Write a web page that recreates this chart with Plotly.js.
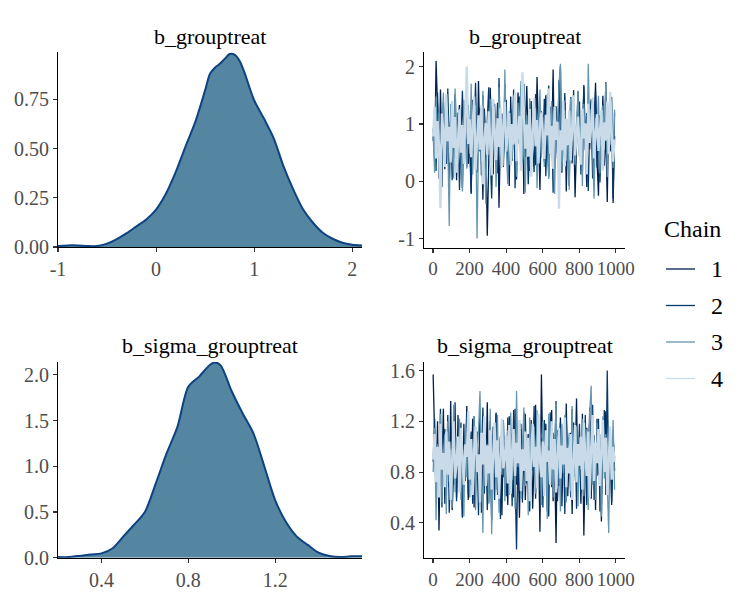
<!DOCTYPE html>
<html>
<head>
<meta charset="utf-8">
<script src="https://cdn.plot.ly/plotly-3.0.1.min.js"></script>
<style>html,body{margin:0;padding:0;background:#fff;}#chart{width:750px;height:600px;}</style>
</head>
<body>
<div id="chart"></div>
<script>
// ---------- data ----------
const params = ["b_grouptreat", "b_sigma_grouptreat"];
const chainNames = ["1", "2", "3", "4"];
const chainColors = ["#011f4b", "#03396c", "#6497b1", "#c9dbe8"];

// density of b_grouptreat
const densX1 = [-1.0,-0.9,-0.8,-0.7,-0.6,-0.5,-0.4,-0.3,-0.2,-0.1,0.0,0.1,0.2,0.3,0.4,0.5,0.55,0.6,0.65,0.7,0.75,0.8,0.85,0.9,1.0,1.1,1.2,1.3,1.4,1.5,1.6,1.7,1.8,1.9,2.0,2.1];
const densY1 = [0.005,0.008,0.008,0.005,0.005,0.017,0.04,0.07,0.105,0.14,0.19,0.27,0.38,0.51,0.635,0.795,0.88,0.91,0.93,0.955,0.98,0.977,0.947,0.888,0.745,0.652,0.552,0.409,0.291,0.19,0.123,0.072,0.042,0.022,0.012,0.008];

// density of b_sigma_grouptreat
const densX2 = [0.2,0.25,0.3,0.35,0.4,0.45,0.5,0.55,0.6,0.65,0.7,0.75,0.8,0.85,0.9,0.925,0.95,1.0,1.05,1.1,1.15,1.2,1.25,1.3,1.35,1.4,1.45,1.5,1.55,1.6];
const densY2 = [0.007,0.007,0.02,0.036,0.047,0.10,0.23,0.36,0.50,0.81,1.14,1.43,1.87,1.98,2.11,2.135,2.10,1.82,1.58,1.36,1.00,0.63,0.39,0.23,0.14,0.055,0.018,0.007,0.015,0.015];

// thinned draws (every 8th iteration) per chain, b_grouptreat
const chain1_b = [0.92,0.35,2.10,1.30,0.05,1.60,0.48,1.12,0.21,1.45,0.66,-0.05,1.21,0.83,0.40,1.52,0.02,0.95,1.33,0.57,-0.12,1.08,0.74,1.58,0.30,
0.88,-0.20,1.42,0.61,1.05,0.15,1.75,0.52,0.97,-0.32,1.27,0.70,-0.95,0.44,1.63,0.86,0.12,1.18,0.60,1.37,-0.46,0.79,1.02,0.25,1.70,
0.55,0.98,-0.08,1.48,0.36,1.15,0.68,0.03,1.55,0.82,0.41,1.25,-0.22,0.93,1.66,0.50,0.18,1.40,0.77,1.06,0.28,1.82,0.63,-0.15,1.20,
0.71,0.34,1.50,0.90,0.08,1.30,0.58,1.95,0.22,1.03,0.47,1.61,2.00,0.15,0.85,1.36,-0.18,0.99,0.62,1.47,0.31,1.12,-0.28,0.80,1.57,
0.43,1.00,0.19,1.68,0.73,-0.10,1.22,0.56,1.40,0.05,0.94,1.72,0.37,-0.25,1.15,0.66,1.49,0.27,0.88,-0.36,1.30,0.52,1.10,-0.38,0.79];
const chain2_b = [0.70,1.25,0.18,1.55,0.62,0.95,-0.10,1.38,0.80,0.30,1.62,0.55,1.10,0.02,0.88,1.45,0.40,1.20,-0.15,0.76,1.58,0.48,1.02,0.25,1.33,
0.60,-0.22,1.15,0.92,1.72,0.35,0.84,1.28,0.10,1.50,0.68,0.21,1.06,1.64,0.45,-0.30,0.97,1.35,0.58,0.14,1.80,0.72,1.18,0.38,0.90,
1.42,0.05,0.78,1.26,0.52,1.60,-0.12,1.00,0.66,1.48,0.27,0.93,1.70,0.42,1.12,-0.05,0.82,1.36,0.59,0.16,1.52,0.74,1.04,0.33,1.22,
0.64,1.44,0.09,0.96,1.67,0.50,1.14,-0.20,0.86,1.31,0.39,1.76,0.70,0.20,1.08,1.54,0.46,0.91,-0.08,1.27,0.63,1.59,0.28,1.01,0.77,
1.39,0.12,0.85,1.65,0.54,1.19,-0.17,0.98,1.43,0.36,0.73,1.56,0.24,1.09,-0.02,0.89,1.34,0.57,1.73,0.31,1.05,0.65,1.47,-0.30,1.20];
const chain3_b = [0.82,0.15,1.48,0.63,1.20,-0.25,0.97,1.55,0.40,1.10,0.70,-0.78,1.35,0.52,0.05,1.62,0.88,0.30,1.27,0.59,-0.18,1.42,0.76,0.22,1.05,
0.48,1.70,0.12,0.93,1.33,-1.00,0.67,1.18,0.35,1.58,0.80,-0.40,1.02,0.56,1.44,0.19,0.90,1.30,-0.10,0.73,1.64,0.44,1.08,0.27,1.95,
0.61,-0.05,1.22,0.85,0.38,1.50,0.69,0.08,1.37,0.95,1.75,0.32,0.78,-0.20,1.15,0.57,1.45,0.14,1.00,0.66,1.28,-0.12,0.83,1.60,0.42,
1.12,0.25,0.92,1.52,0.04,0.74,1.40,0.50,-0.22,1.06,0.87,1.68,2.05,0.18,0.62,1.24,0.36,0.99,-0.15,1.46,0.71,1.17,0.29,0.81,1.58,
0.46,1.03,-0.08,1.35,0.68,0.21,2.05,0.94,1.26,0.39,-0.30,1.11,0.77,1.49,0.13,0.86,1.32,0.55,1.72,0.07,0.98,0.64,1.41,0.23,1.25];
const chain4_b = [0.78,1.30,0.40,1.05,0.62,-0.47,1.18,0.85,0.25,1.52,0.70,0.95,0.33,1.40,0.58,1.12,0.15,0.88,1.25,0.50,0.98,0.30,1.36,2.00,0.65,
1.08,0.42,0.92,1.48,0.20,0.80,1.15,0.55,1.32,-0.05,0.74,1.02,0.46,1.22,0.68,0.10,1.44,0.86,0.37,1.10,0.60,1.28,0.24,0.96,1.38,
0.52,0.83,1.19,0.28,1.00,0.64,1.55,0.35,0.90,1.14,0.18,1.90,1.34,0.57,0.99,0.43,1.26,0.08,0.84,1.45,0.61,1.07,0.31,0.93,1.20,
0.66,0.39,1.16,0.80,1.62,0.48,0.97,0.22,1.30,0.72,1.04,-0.48,0.89,0.54,1.41,0.26,1.09,0.63,1.23,0.36,0.91,1.50,0.45,0.82,1.13,
0.58,0.29,1.27,0.75,1.01,0.12,1.35,0.67,0.94,1.46,0.40,0.79,1.17,0.53,0.87,1.24,0.19,1.03,0.71,1.39,0.47,1.56,0.85,0.34,0.73];

// thinned draws per chain, b_sigma_grouptreat
const chain1_s = [1.57,0.95,0.62,1.20,0.34,1.05,0.78,1.30,0.55,0.92,1.15,0.68,1.36,0.50,0.88,1.10,0.60,1.25,0.74,0.98,0.45,1.18,0.83,1.32,0.58,
1.00,0.70,1.22,0.52,0.94,1.12,0.65,1.28,0.48,0.86,1.06,0.72,1.35,0.56,0.96,0.42,1.16,0.80,1.26,0.62,0.90,1.08,0.46,1.20,0.75,
0.97,0.54,1.24,0.82,1.04,0.60,1.30,0.70,0.93,0.44,1.14,0.77,1.27,0.58,0.99,1.10,0.66,1.21,0.51,0.87,1.33,0.73,1.02,0.33,1.57,
0.85,0.64,1.18,0.49,1.07,0.79,1.29,0.57,0.91,0.24,1.13,0.69,1.23,0.53,1.01,0.76,1.34,0.61,0.95,1.11,0.47,1.19,0.84,1.38,0.67,
1.03,0.55,1.26,0.30,0.89,1.15,0.71,1.31,0.59,0.98,1.09,0.50,1.22,0.78,0.94,0.41,1.17,0.86,1.28,0.63,0.92,1.12,0.54,1.07,0.81];
const chain2_s = [0.88,1.22,0.60,1.05,0.75,1.30,0.52,0.96,1.14,0.66,1.25,0.48,0.92,1.08,0.70,1.35,0.57,1.00,0.80,1.19,0.44,1.02,0.73,1.28,0.62,
0.95,1.12,0.55,1.24,0.78,0.99,0.46,1.17,0.84,1.31,0.63,1.06,0.50,0.93,1.20,0.69,1.09,0.58,1.27,0.82,0.97,0.43,1.15,0.76,1.03,
0.61,1.23,0.87,1.10,0.53,1.29,0.74,0.19,1.01,0.67,1.18,0.56,0.94,1.26,0.71,1.04,0.49,1.13,0.81,1.32,0.59,0.98,1.16,0.65,1.07,
0.52,1.21,0.79,1.00,0.45,1.27,0.68,1.11,0.86,1.36,0.57,0.96,1.19,0.72,1.05,0.47,1.24,0.83,0.99,0.60,1.30,0.76,1.14,0.51,0.93,
1.18,0.64,1.08,0.85,1.25,0.54,0.97,1.20,0.70,1.33,0.58,1.02,0.77,1.22,0.49,1.10,0.88,1.29,0.62,1.60,0.73,1.15,0.56,1.06,0.91];
const chain3_s = [0.80,1.15,0.42,1.02,0.68,1.26,0.56,0.94,1.10,0.47,1.20,0.72,0.98,0.52,1.33,0.64,1.07,0.85,1.22,0.58,1.00,0.45,1.17,0.76,1.28,
0.60,1.05,0.82,1.24,0.50,0.96,1.12,1.44,0.70,0.32,1.18,0.88,1.02,0.55,1.30,0.31,0.92,1.14,0.66,1.25,0.48,1.08,0.78,1.21,0.57,
0.99,1.13,0.62,1.27,0.74,1.04,0.51,1.44,0.84,1.19,0.59,0.95,1.31,0.69,1.09,0.46,1.23,0.81,0.97,1.16,0.63,1.29,0.77,1.01,0.54,
1.20,0.71,1.06,0.43,1.26,0.86,1.12,0.60,0.93,1.34,0.67,1.03,0.49,1.18,0.79,1.25,0.56,0.98,1.11,0.65,1.32,0.73,0.90,1.16,0.53,
1.07,0.82,1.22,0.61,0.96,1.14,0.50,1.27,1.48,0.70,1.05,0.58,1.19,0.87,1.01,0.45,1.24,0.75,1.10,0.63,0.32,1.15,0.80,1.21,0.66];
const chain4_s = [0.90,1.10,0.72,1.00,0.60,1.18,0.82,0.95,0.68,1.12,0.78,1.04,0.58,0.98,1.20,0.75,0.88,1.08,0.64,1.15,0.85,0.70,1.02,0.92,1.28,
0.74,1.06,0.62,0.97,1.16,0.80,0.94,0.56,1.11,0.86,1.24,0.69,1.01,0.79,1.13,0.66,0.93,1.19,0.76,1.05,0.59,0.99,1.22,0.83,0.91,
1.09,0.71,1.17,0.63,0.96,1.14,0.77,1.03,0.87,1.21,0.65,0.98,0.81,1.12,0.73,1.07,0.57,0.95,1.18,0.84,1.00,0.67,1.26,0.89,0.76,
1.04,0.61,1.13,0.88,0.97,0.70,1.20,0.82,1.06,0.64,0.93,1.15,0.75,1.01,0.86,1.23,0.68,0.99,0.79,1.10,0.58,0.94,1.17,0.72,1.02,
0.85,1.08,0.66,1.19,0.91,0.77,1.12,0.60,0.98,1.25,0.73,1.03,0.87,1.14,0.69,0.96,1.21,0.80,1.07,0.62,0.94,1.16,0.74,1.00,0.88];

const thin = 8; // iteration step between stored draws

// tick labels
const dens1XTicks = [-1, 0, 1, 2];           const dens1XText = ["-1", "0", "1", "2"];
const dens1YTicks = [0, 0.25, 0.5, 0.75];    const dens1YText = ["0.00", "0.25", "0.50", "0.75"];
const traceXTicks = [0, 200, 400, 600, 800, 1000]; const traceXText = ["0", "200", "400", "600", "800", "1000"];
const trace1YTicks = [-1, 0, 1, 2];          const trace1YText = ["-1", "0", "1", "2"];
const dens2XTicks = [0.4, 0.8, 1.2];         const dens2XText = ["0.4", "0.8", "1.2"];
const dens2YTicks = [0, 0.5, 1, 1.5, 2];     const dens2YText = ["0.0", "0.5", "1.0", "1.5", "2.0"];
const trace2YTicks = [0.4, 0.8, 1.2, 1.6];   const trace2YText = ["0.4", "0.8", "1.2", "1.6"];

// ---------- build ----------
const FONT = "Liberation Serif, Times New Roman, serif";
const densFill = "#5486a2", densLine = "#0d4380";

function iters(arr) { return arr.map((_, i) => 1 + i * thin); }

const traces = [];
traces.push({x: densX1, y: densY1, type: "scatter", mode: "lines", fill: "tozeroy",
  fillcolor: densFill, line: {color: densLine, width: 2, shape: "spline", smoothing: 0.8},
  xaxis: "x", yaxis: "y", showlegend: false, hoverinfo: "skip"});
traces.push({x: densX2, y: densY2, type: "scatter", mode: "lines", fill: "tozeroy",
  fillcolor: densFill, line: {color: densLine, width: 2, shape: "spline", smoothing: 0.8},
  xaxis: "x3", yaxis: "y3", showlegend: false, hoverinfo: "skip"});

const chainsB = [chain1_b, chain2_b, chain3_b, chain4_b];
const chainsS = [chain1_s, chain2_s, chain3_s, chain4_s];
const traceWidths = [1.3, 1.3, 1.3, 2.4];
chainsB.forEach((c, k) => traces.push({x: iters(c), y: c, type: "scatter", mode: "lines",
  line: {color: chainColors[k], width: traceWidths[k]}, name: chainNames[k], xaxis: "x2", yaxis: "y2", showlegend: false}));
chainsS.forEach((c, k) => traces.push({x: iters(c), y: c, type: "scatter", mode: "lines",
  line: {color: chainColors[k], width: traceWidths[k]}, name: chainNames[k], xaxis: "x4", yaxis: "y4", showlegend: false}));

const W = 750, H = 600;
const px = v => v / W, py = v => 1 - v / H;

function axis(domain, range, tickvals, ticktext, fs) {
  return {domain: domain, range: range, tickmode: "array", tickvals: tickvals, ticktext: ticktext,
    showline: true, linecolor: "#000", linewidth: 1.1, ticks: "outside", ticklen: 4, tickwidth: 1.1,
    tickcolor: "#333", showgrid: false, zeroline: false, fixedrange: true, tickangle: 0,
    tickfont: {family: FONT, size: fs || 20, color: "#4d4d4d"}};
}

const layout = {
  width: W, height: H, margin: {l: 0, r: 0, t: 0, b: 0},
  paper_bgcolor: "#fff", plot_bgcolor: "#fff", showlegend: false,
  font: {family: FONT},
  xaxis:  Object.assign(axis([px(58), px(362)], [-1.0, 2.1], dens1XTicks, dens1XText), {anchor: "y"}),
  yaxis:  Object.assign(axis([py(247), py(52)], [0, 0.99], dens1YTicks, dens1YText), {anchor: "x"}),
  xaxis2: Object.assign(axis([px(424), px(625)], [-49, 1050], traceXTicks, traceXText, 19), {anchor: "y2"}),
  yaxis2: Object.assign(axis([py(247.5), py(52)], [-1.155, 2.255], trace1YTicks, trace1YText), {anchor: "x2"}),
  xaxis3: Object.assign(axis([px(58), px(362)], [0.2, 1.6], dens2XTicks, dens2XText), {anchor: "y3"}),
  yaxis3: Object.assign(axis([py(557.7), py(362)], [0, 2.14], dens2YTicks, dens2YText), {anchor: "x3"}),
  xaxis4: Object.assign(axis([px(424), px(625)], [-49, 1050], traceXTicks, traceXText, 19), {anchor: "y4"}),
  yaxis4: Object.assign(axis([py(558.3), py(362)], [0.12, 1.668], trace2YTicks, trace2YText), {anchor: "x4"}),
  annotations: [], shapes: []
};

// panel titles
const titleFont = {family: FONT, size: 22, color: "#000"};
[[210, 37, params[0]], [524.5, 37, params[0]], [210, 345, params[1]], [524.5, 345, params[1]]].forEach(t => {
  layout.annotations.push({xref: "paper", yref: "paper", x: px(t[0]), y: py(t[1]), text: t[2],
    showarrow: false, xanchor: "center", yanchor: "middle", font: titleFont});
});

// legend (drawn manually to match ggplot spacing)
layout.annotations.push({xref: "paper", yref: "paper", x: px(662), y: py(229), text: "Chain",
  showarrow: false, xanchor: "left", yanchor: "middle", font: {family: FONT, size: 24, color: "#000"}});
chainNames.forEach((n, k) => {
  const yc = 269 + k * 36.5;
  layout.shapes.push({type: "line", xref: "paper", yref: "paper", x0: px(666), x1: px(695),
    y0: py(yc), y1: py(yc), line: {color: chainColors[k], width: 1.3}});
  layout.annotations.push({xref: "paper", yref: "paper", x: px(709), y: py(yc), text: n,
    showarrow: false, xanchor: "left", yanchor: "middle", font: {family: FONT, size: 24, color: "#000"}});
});

Plotly.newPlot("chart", traces, layout, {displayModeBar: false, staticPlot: true});
</script>
</body>
</html>
